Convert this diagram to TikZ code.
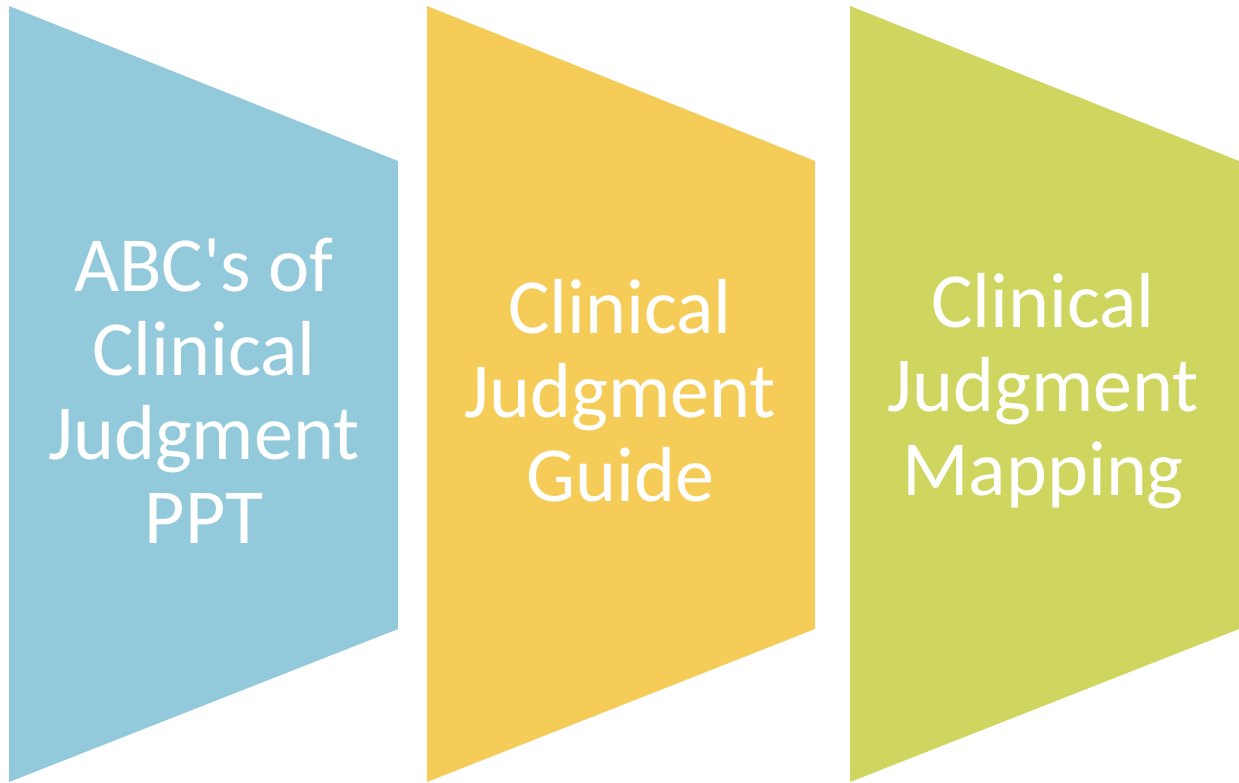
\documentclass[tikz,border=0pt]{standalone}
\usepackage{fontspec}
\setmainfont{Carlito}
\definecolor{stepblue}{HTML}{92CADB}
\definecolor{stepyellow}{HTML}{F6CC58}
\definecolor{stepgreen}{HTML}{CFD660}
\tikzset{
  steptext/.style={text=white,align=center,font=\fontsize{78}{84}\selectfont},
}
\begin{document}
\begin{tikzpicture}[x=1pt,y=-1pt]
    \useasboundingbox (0,0) rectangle (1239,782);
    \fill[stepblue] (9,6) -- (398,161) -- (398,629) -- (9,782) -- cycle;
    \fill[stepyellow] (427,6) -- (815,161) -- (815,629) -- (427,782) -- cycle;
    \fill[stepgreen] (850,6) -- (1239,161) -- (1239,629) -- (850,782) -- cycle;
    \node[steptext] (abc) at (204,391) {ABC\textquotesingle s of\\Clinical\\Judgment\\PPT};
    \node[steptext] (guide) at (620,391) {Clinical\\Judgment\\Guide};
    \node[steptext] (mapping) at (1043,391) {Clinical\\Judgment\\Mapping};
\end{tikzpicture}
\end{document}
